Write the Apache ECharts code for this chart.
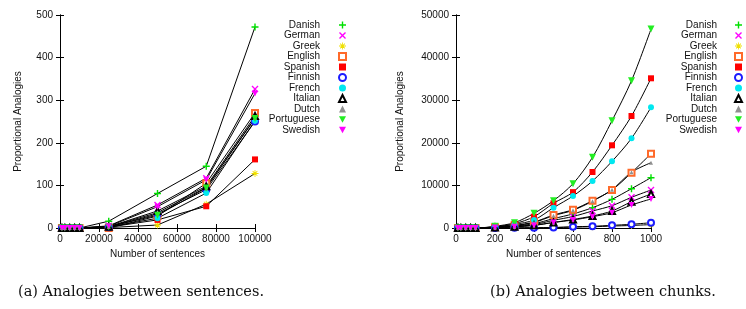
<!DOCTYPE html>
<html>
<head>
<meta charset="utf-8">
<script src="https://cdn.jsdelivr.net/npm/echarts@6/dist/echarts.min.js"></script>
<style>
  html, body { margin: 0; padding: 0; background: #fff; }
  #chart { width: 746px; height: 309px; }
</style>
</head>
<body>
<div id="chart"></div>
<script>
const languages = ["Danish", "German", "Greek", "English", "Spanish", "Finnish", "French", "Italian", "Dutch", "Portuguese", "Swedish"];

// (a) sentences
const sentX = [1000, 2500, 5000, 7500, 10000, 25000, 50000, 75000, 100000];
const sentDanish     = [0, 0, 0, 0, 0, 16, 81, 145, 472];
const sentGerman     = [0, 0, 0, 0, 0, 5, 54, 117, 326];
const sentGreek      = [0, 0, 0, 0, 0, 1, 7, 56, 128];
const sentEnglish    = [0, 0, 0, 0, 0, 0, 28, 105, 270];
const sentSpanish    = [0, 0, 0, 0, 0, 2, 19, 51, 161];
const sentFinnish    = [0, 0, 0, 0, 0, 2, 33, 90, 250];
const sentFrench     = [0, 0, 0, 0, 0, 2, 23, 82, 252];
const sentItalian    = [0, 0, 0, 0, 0, 3, 40, 98, 263];
const sentDutch      = [0, 0, 0, 0, 0, 3, 36, 95, 258];
const sentPortuguese = [0, 0, 0, 0, 0, 3, 30, 94, 257];
const sentSwedish    = [0, 0, 0, 0, 0, 4, 50, 113, 316];

// (b) chunks
const chunkX = [10, 25, 50, 75, 100, 200, 300, 400, 500, 600, 700, 800, 900, 1000];
const chunkDanish     = [0, 0, 0, 0, 0, 150, 450, 1000, 2200, 3300, 4770, 6730, 9230, 11810];
const chunkGerman     = [0, 0, 0, 0, 0, 120, 350, 800, 1800, 2700, 3990, 5240, 7200, 8920];
const chunkGreek      = [0, 0, 0, 0, 0, 8, 25, 50, 100, 200, 300, 450, 600, 800];
const chunkEnglish    = [0, 0, 0, 0, 0, 200, 600, 1400, 3050, 4300, 6410, 8920, 12980, 17440];
const chunkSpanish    = [0, 0, 0, 0, 0, 300, 1000, 2660, 5800, 8420, 13150, 19410, 26290, 35140];
const chunkFinnish    = [0, 0, 0, 0, 0, 10, 30, 60, 120, 300, 400, 630, 870, 1240];
const chunkFrench     = [0, 0, 0, 0, 0, 250, 850, 1880, 4770, 7510, 11030, 15650, 21050, 28330];
const chunkItalian    = [0, 0, 0, 0, 0, 100, 300, 650, 1300, 2000, 2820, 3990, 6180, 7980];
const chunkDutch      = [0, 0, 0, 0, 0, 180, 550, 1300, 2900, 4150, 6300, 9000, 13100, 15330];
const chunkPortuguese = [0, 0, 0, 0, 0, 400, 1250, 3440, 6410, 10400, 16590, 25190, 34580, 46700];
const chunkSwedish    = [0, 0, 0, 0, 0, 90, 280, 600, 1300, 1880, 2660, 3600, 5400, 6810];

const sentValues = [sentDanish, sentGerman, sentGreek, sentEnglish, sentSpanish, sentFinnish,
  sentFrench, sentItalian, sentDutch, sentPortuguese, sentSwedish];
const chunkValues = [chunkDanish, chunkGerman, chunkGreek, chunkEnglish, chunkSpanish, chunkFinnish,
  chunkFrench, chunkItalian, chunkDutch, chunkPortuguese, chunkSwedish];

const PLUS = "path://M4,0h2v4h4v2h-4v4h-2v-4h-4v-2h4z";
const CROSS = "path://M2.07,0.93L9.07,7.93L7.93,9.07L0.93,2.07ZM9.07,2.07L2.07,9.07L0.93,7.93L7.93,0.93Z";
const STAR = "path://M4.4,0h1.2v4.4h4.4v1.2h-4.4v4.4h-1.2v-4.4h-4.4v-1.2h4.4z" +
  "M2.07,1.23L8.77,7.93L7.93,8.77L1.23,2.07ZM8.77,2.07L2.07,8.77L1.23,7.93L7.93,1.23Z";
const TRI_DOWN = "path://M0,0L10,0L5,9Z";

const marks = [
  { color: "#00e000", symbol: PLUS, size: 7 },
  { color: "#ff00ff", symbol: CROSS, size: 7 },
  { color: "#f0e000", symbol: STAR, size: 7 },
  { color: "#ff6a2a", symbol: "emptyRect", size: 6 },
  { color: "#ff0000", symbol: "rect", size: 6 },
  { color: "#1c1cff", symbol: "emptyCircle", size: 6 },
  { color: "#00e8f0", symbol: "circle", size: 6 },
  { color: "#000000", symbol: "emptyTriangle", size: 6 },
  { color: "#909090", symbol: "triangle", size: 4 },
  { color: "#22ee22", symbol: TRI_DOWN, size: 7 },
  { color: "#ff00ff", symbol: TRI_DOWN, size: 6 }
];

const font = "Liberation Sans";
const textColor = "#111";
const plain = v => String(v);

function makeSeries(xs, values, idx, smooth) {
  return languages.map((name, i) => ({
    name: name,
    type: "line",
    xAxisIndex: idx * 2,
    yAxisIndex: idx * 2,
    data: xs.map((x, j) => [x, values[i][j]]),
    symbol: marks[i].symbol,
    symbolSize: marks[i].size,
    smooth: smooth,
    clip: false,
    animation: false,
    itemStyle: { color: marks[i].color },
    lineStyle: { color: "#000", width: 1 }
  }));
}

function mainX(grid, max, interval) {
  return {
    type: "value", gridIndex: grid, min: 0, max: max, interval: interval,
    name: "Number of sentences", nameLocation: "middle", nameGap: 21,
    nameTextStyle: { fontFamily: font, fontSize: 10, color: textColor },
    axisLine: { lineStyle: { color: "#000", width: 1 } },
    axisTick: { inside: true, length: 4, lineStyle: { color: "#000" } },
    axisLabel: { fontFamily: font, fontSize: 10, color: textColor, margin: 6, formatter: plain },
    splitLine: { show: false }
  };
}
function mirrorX(grid, max, interval) {
  return {
    type: "value", gridIndex: grid, position: "top", min: 0, max: max, interval: interval,
    axisLine: { lineStyle: { color: "#000", width: 1 } },
    axisTick: { inside: true, length: 4, lineStyle: { color: "#000" } },
    axisLabel: { show: false }, splitLine: { show: false }
  };
}
function mainY(grid, max, interval, gap) {
  return {
    type: "value", gridIndex: grid, min: 0, max: max, interval: interval,
    name: "Proportional Analogies", nameLocation: "middle", nameGap: gap,
    nameTextStyle: { fontFamily: font, fontSize: 10, color: textColor },
    axisLine: { show: true, lineStyle: { color: "#000", width: 1 } },
    axisTick: { show: true, inside: true, length: 4, lineStyle: { color: "#000" } },
    axisLabel: { fontFamily: font, fontSize: 10, color: textColor, margin: 7, formatter: plain },
    splitLine: { show: false }
  };
}
function mirrorY(grid, max, interval) {
  return {
    type: "value", gridIndex: grid, position: "right", min: 0, max: max, interval: interval,
    axisLine: { show: true, lineStyle: { color: "#000", width: 1 } },
    axisTick: { show: true, inside: true, length: 4, lineStyle: { color: "#000" } },
    axisLabel: { show: false }, splitLine: { show: false }
  };
}

function makeLegend(right, pad) {
  return {
    orient: "vertical", align: "right", right: right, top: 15,
    itemWidth: 7, itemHeight: 7, itemGap: 0.5,
    textStyle: { fontFamily: font, fontSize: 10, lineHeight: 10, color: textColor, padding: [0, pad, 0, 0] },
    data: languages.map((name, i) => ({ name: name, icon: marks[i].symbol })),
    selectedMode: false
  };
}

const chart = echarts.init(document.getElementById("chart"));
chart.setOption({
  animation: false,
  grid: [
    { left: 60, right: 491, top: 15, bottom: 81 },
    { left: 456, right: 95, top: 15, bottom: 81 }
  ],
  xAxis: [mainX(0, 100000, 20000), mirrorX(0, 100000, 20000), mainX(1, 1000, 200), mirrorX(1, 1000, 200)],
  yAxis: [mainY(0, 500, 100, 37), mirrorY(0, 500, 100), mainY(1, 50000, 10000, 51), mirrorY(1, 50000, 10000)],
  legend: [makeLegend(394, 14), makeLegend(-2, 13)],
  series: makeSeries(sentX, sentValues, 0, false).concat(makeSeries(chunkX, chunkValues, 1, 0.3)),
  graphic: [
    { type: "text", x: 141, y: 292, style: { text: "(a) Analogies between sentences.", font: "14.5px 'DejaVu Serif'", fill: "#111", align: "center", verticalAlign: "middle" } },
    { type: "text", x: 603, y: 292, style: { text: "(b) Analogies between chunks.", font: "14.5px 'DejaVu Serif'", fill: "#111", align: "center", verticalAlign: "middle" } }
  ]
});
</script>
</body>
</html>
